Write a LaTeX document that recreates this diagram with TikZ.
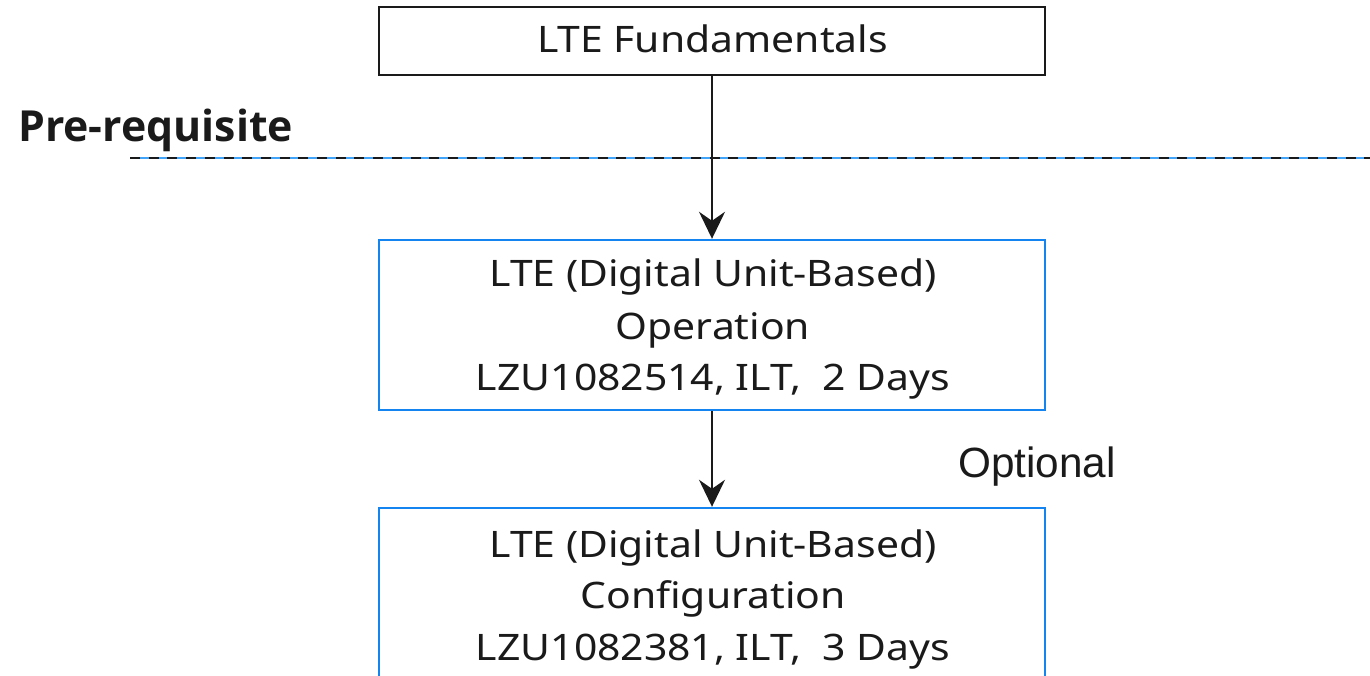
\documentclass[tikz,border=0pt]{standalone}
\usepackage{fontspec}
\setmainfont{Noto Sans}
\newfontfamily\boxfont[FakeStretch=1.12]{Noto Sans}
\newfontfamily\prefont{Open Sans}
\newfontfamily\optfont{Liberation Sans}
\usetikzlibrary{arrows.meta}
\definecolor{boxblue}{RGB}{20,132,240}
\definecolor{lineblue}{RGB}{64,164,250}
\definecolor{ink}{RGB}{26,26,26}
\tikzset{
  blackbox/.style={draw=ink, line width=2pt, minimum width=666pt, inner sep=0pt},
  bluebox/.style={draw=boxblue, line width=2.4pt, minimum width=666pt, inner sep=0pt},
  txt/.style={text=ink, inner sep=0pt, anchor=base, font=\boxfont\fontsize{36.5}{42}\selectfont},
  arr/.style={draw=ink, line width=2pt, -{Stealth[length=27pt,width=26pt,inset=9pt]}},
  dashblack/.style={draw=ink, line width=2.6pt, dash pattern=on 10pt off 8.7pt},
  dashblue/.style={draw=lineblue, line width=1.4pt}
}
\begin{document}
\begin{tikzpicture}[x=1pt,y=-1pt]
\useasboundingbox (0,0) rectangle (1370,676);
\clip (0,0) rectangle (1370,676);
% boxes
\node[blackbox, minimum height=68pt] (top) at (712,41) {};
\node[bluebox, minimum height=170pt] (mid) at (712,325) {};
\node[bluebox, minimum height=200pt] (bot) at (712,608) {};
% texts
\node[txt] (t1) at (712.5,53) {LTE Fundamentals};
\node[txt] (m1) at (713,287) {LTE (Digital Unit-Based)};
\node[txt] (m2) at (713,339) {Operation};
\node[txt] (m3) at (713,390) {LZU1082514, ILT,\ \ 2 Days};
\node[txt] (b1) at (713,557) {LTE (Digital Unit-Based)};
\node[txt] (b2) at (713,608) {Configuration};
\node[txt] (b3) at (713,660) {LZU1082381, ILT,\ \ 3 Days};
\node[text=ink, inner sep=0pt, anchor=base west, font=\prefont\bfseries\fontsize{42.8}{48}\selectfont] (pre) at (18,142) {Pre-requisite};
\node[text=ink, inner sep=0pt, anchor=base west, font=\optfont\fontsize{42.3}{48}\selectfont] (opt) at (958,477) {Optional};
% dashed separator
\coordinate (dl) at (130,158);
\coordinate (dr) at (1372,158);
\draw[dashblue] (dl) -- (dr);
\draw[dashblack] (dl) -- (dr);
% arrows
\draw[arr] (top.south) -- (mid.north);
\draw[arr] (mid.south) -- (bot.north);
\end{tikzpicture}
\end{document}
